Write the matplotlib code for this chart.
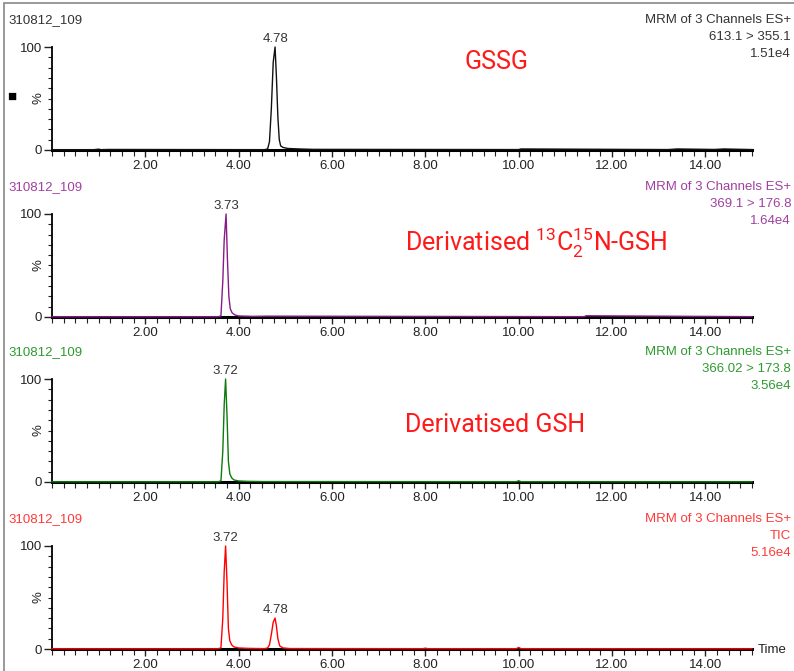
import matplotlib.pyplot as plt
from matplotlib.ticker import MultipleLocator, FixedLocator, FormatStrFormatter
from matplotlib.patches import Rectangle

plt.rcParams['font.family'] = ['Liberation Sans', 'DejaVu Sans']

# retention time (min) and relative intensity (%)
t_gssg = [0.0, 0.9, 1.0, 1.05, 1.2, 4.55, 4.62, 4.66, 4.70, 4.74, 4.78, 4.81, 4.84, 4.87, 4.90, 4.95, 5.05, 5.3, 5.6, 10.0, 10.05, 13.2, 13.4, 14.2, 14.4, 15.0]
i_gssg = [0.3, 0.3, 0.8, 0.3, 0.5, 0.3, 1.0, 8, 40, 85, 100, 70, 32, 10, 4, 2.5, 1.5, 1.0, 0.6, 0.4, 1.0, 0.4, 1.0, 0.5, 1.0, 0.4]

t_lab = [0.0, 3.55, 3.62, 3.66, 3.69, 3.73, 3.76, 3.79, 3.82, 3.86, 3.92, 4.0, 4.3, 4.6, 10.0, 11.4, 11.45, 15.0]
i_lab = [0.2, 0.2, 1.0, 35, 75, 100, 55, 20, 8, 4, 2, 1.0, 0.6, 0.8, 0.4, 0.3, 1.2, 0.3]

t_gsh = [0.0, 3.55, 3.62, 3.66, 3.69, 3.72, 3.75, 3.78, 3.81, 3.85, 3.9, 4.0, 4.2, 4.5, 9.95, 10.0, 10.05, 15.0]
i_gsh = [0.2, 0.2, 1.0, 30, 75, 100, 65, 20, 8, 4, 2, 1.0, 0.6, 0.4, 0.3, 1.2, 0.3, 0.2]

t_tic = [0.0, 3.55, 3.62, 3.66, 3.69, 3.72, 3.75, 3.78, 3.81, 3.85, 3.9, 4.0, 4.2, 4.55, 4.62, 4.66, 4.70, 4.74, 4.78, 4.81, 4.84, 4.88, 4.95, 5.1, 7.95, 8.0, 8.05, 9.95, 10.0, 10.05, 15.0]
i_tic = [0.2, 0.2, 1.0, 30, 75, 100, 65, 20, 8, 4, 2, 1.0, 0.6, 0.3, 1.0, 4, 14, 26, 30, 22, 10, 3, 1.0, 0.4, 0.3, 0.8, 0.3, 0.3, 1.5, 0.3, 0.2]

sample = '310812_109'
headers = [
    ['MRM of 3 Channels ES+', '613.1 > 355.1', '1.51e4'],
    ['MRM of 3 Channels ES+', '369.1 > 176.8', '1.64e4'],
    ['MRM of 3 Channels ES+', '366.02 > 173.8', '3.56e4'],
    ['MRM of 3 Channels ES+', 'TIC', '5.16e4'],
]
peak_labels = [[(4.78, '4.78')], [(3.73, '3.73')], [(3.72, '3.72')], [(3.72, '3.72'), (4.78, '4.78')]]
compounds = ['GSSG', 'Derivatised $\\mathregular{^{13}C_2^{15}}$N-GSH', 'Derivatised GSH', '']

series = [(t_gssg, i_gssg), (t_lab, i_lab), (t_gsh, i_gsh), (t_tic, i_tic)]
line_cols = ['#111111', '#8a1a8a', '#0c7a0c', '#ff0000']
text_cols = ['#333333', '#a040a0', '#2e9a2e', '#ff3a3a']

W, H = 794, 671
fig = plt.figure(figsize=(W / 100, H / 100), dpi=100)

# outer frame of the report
fig.add_artist(Rectangle((4 / W, -0.01), 1.0, 1 - 3 / H + 0.01, transform=fig.transFigure,
                         fill=False, edgecolor='#888888', lw=1.2))

zero_y = [150, 317, 482, 649]
ph = 103
for k in range(4):
    ax = fig.add_axes([52 / W, 1 - zero_y[k] / H, 700 / W, ph / H])
    t, inten = series[k]
    ax.plot(t, inten, color=line_cols[k], lw=1.0, clip_on=False, zorder=5)
    ax.set_xlim(0, 15)
    ax.set_ylim(0, 100)
    for s in ['top', 'right']:
        ax.spines[s].set_visible(False)
    ax.spines['bottom'].set_linewidth(2.2)
    ax.spines['left'].set_linewidth(1.3)
    ax.xaxis.set_major_locator(FixedLocator([2, 4, 6, 8, 10, 12, 14]))
    ax.xaxis.set_major_formatter(FormatStrFormatter('%.2f'))
    ax.xaxis.set_minor_locator(MultipleLocator(0.25))
    ax.yaxis.set_major_locator(FixedLocator([0, 100]))
    ax.yaxis.set_minor_locator(MultipleLocator(10))
    ax.tick_params(axis='x', which='major', length=5, width=1, labelsize=9.5, pad=2, colors='#222222')
    ax.tick_params(axis='x', which='minor', length=4, width=0.8, color='#222222')
    ax.tick_params(axis='y', which='major', length=6, width=1, labelsize=9.5, pad=1, colors='#222222')
    ax.tick_params(axis='y', which='minor', length=3, width=0.8, color='#222222')
    ax.text(-13 / 700, 0.5, '%', transform=ax.transAxes, rotation=90, fontsize=9.5,
            ha='center', va='center', color='#222222')
    for px, lab in peak_labels[k]:
        pk = max(v for tt, v in zip(t, inten) if abs(tt - px) < 0.05)
        ax.text(px, pk + 2, lab, ha='center', va='bottom', fontsize=9.5, color='#333333')
    top = zero_y[k] - ph
    fig.text(8 / W, 1 - (top - 27) / H, sample, fontsize=9.5, color=text_cols[k], va='center')
    for j, line in enumerate(headers[k]):
        fig.text(791 / W, 1 - (top - 27 + 17 * j) / H, line, fontsize=9.5,
                 color=text_cols[k], ha='right', va='center')

fig.text(758 / W, 1 - 650 / H, 'Time', fontsize=9.5, color='#222222', va='center')
fig.text(12 / W, 1 - 97 / H, '\u25a0', fontsize=11, color='black', ha='center', va='center')

big = dict(fontsize=18, color='#ff1a1a', family=['Roboto', 'DejaVu Sans'], va='center')
fig.text(465 / W, 1 - 62 / H, compounds[0], **big)
fig.text(405 / W, 1 - 243 / H, compounds[1], **big)
fig.text(405 / W, 1 - 425 / H, compounds[2], **big)

fig.savefig('out.png', dpi=100)
